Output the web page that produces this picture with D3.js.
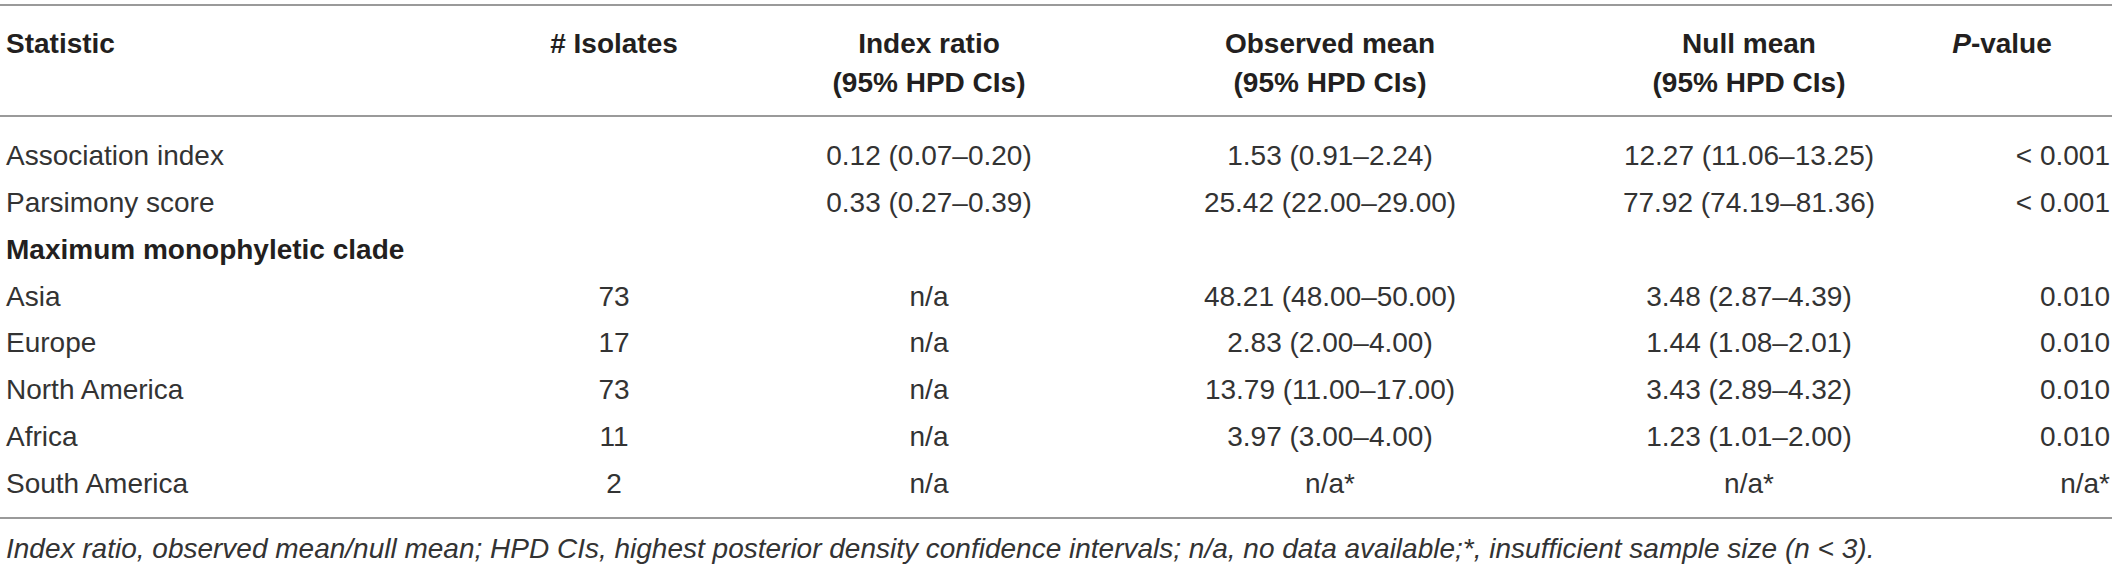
<!DOCTYPE html>
<html>
<head>
<meta charset="utf-8">
<script src="https://cdn.jsdelivr.net/npm/d3@7"></script>
<style>
  html, body { margin: 0; padding: 0; background: #fff; }
  svg { display: block; }
  text { font-family: "Liberation Sans", Arial, Helvetica, sans-serif; }
</style>
</head>
<body>
<svg id="chart" width="2118" height="567"></svg>
<script>
// ---- data ----
const headers1 = ["Statistic", "# Isolates", "Index ratio", "Observed mean", "Null mean", "P-value"];
const headers2 = ["", "", "(95% HPD CIs)", "(95% HPD CIs)", "(95% HPD CIs)", ""];
const rowLabels = ["Association index", "Parsimony score", "Maximum monophyletic clade", "Asia", "Europe", "North America", "Africa", "South America"];
const sectionRows = ["Maximum monophyletic clade"];
const isolates = ["", "", "", "73", "17", "73", "11", "2"];
const indexRatio = ["0.12 (0.07–0.20)", "0.33 (0.27–0.39)", "", "n/a", "n/a", "n/a", "n/a", "n/a"];
const observedMean = ["1.53 (0.91–2.24)", "25.42 (22.00–29.00)", "", "48.21 (48.00–50.00)", "2.83 (2.00–4.00)", "13.79 (11.00–17.00)", "3.97 (3.00–4.00)", "n/a*"];
const nullMean = ["12.27 (11.06–13.25)", "77.92 (74.19–81.36)", "", "3.48 (2.87–4.39)", "1.44 (1.08–2.01)", "3.43 (2.89–4.32)", "1.23 (1.01–2.00)", "n/a*"];
const pValue = ["< 0.001", "< 0.001", "", "0.010", "0.010", "0.010", "0.010", "n/a*"];
const footnote = "Index ratio, observed mean/null mean; HPD CIs, highest posterior density confidence intervals; n/a, no data available;*, insufficient sample size (n < 3).";

// ---- layout ----
const svg = d3.select("#chart");
const fontSize = 28;
const headColor = "#231f20";
const textColor = "#333333";
const ruleColor = "#9a9a9a";
const capOffset = 10; // baseline offset from visual centre

const columns = [
  { key: "label", x: 6, anchor: "start", values: rowLabels },
  { key: "iso", x: 614, anchor: "middle", values: isolates },
  { key: "idx", x: 929, anchor: "middle", values: indexRatio },
  { key: "obs", x: 1330, anchor: "middle", values: observedMean },
  { key: "null", x: 1749, anchor: "middle", values: nullMean },
  { key: "p", x: 2110, anchor: "end", values: pValue }
];
const headerX = [6, 614, 929, 1330, 1749, 2002];
const headerAnchor = ["start", "middle", "middle", "middle", "middle", "middle"];

const y = d3.scalePoint()
  .domain(d3.range(rowLabels.length))
  .range([155, 483]);

// rules
const rules = [5, 116, 518];
svg.selectAll("line.rule").data(rules).join("line")
  .attr("class", "rule")
  .attr("x1", 0).attr("x2", 2112)
  .attr("y1", d => d).attr("y2", d => d)
  .attr("stroke", ruleColor).attr("stroke-width", 2);

// headers
const hdr = svg.append("g").attr("font-weight", "bold").attr("font-size", fontSize).attr("fill", headColor);
headers1.forEach((h, i) => {
  const t = hdr.append("text")
    .attr("x", headerX[i]).attr("y", 43 + capOffset)
    .attr("text-anchor", headerAnchor[i]);
  if (h === "P-value") {
    t.append("tspan").attr("font-style", "italic").text("P");
    t.append("tspan").text("-value");
  } else {
    t.text(h);
  }
  if (headers2[i]) {
    hdr.append("text")
      .attr("x", headerX[i]).attr("y", 82 + capOffset)
      .attr("text-anchor", headerAnchor[i])
      .text(headers2[i]);
  }
});

// body cells
const body = svg.append("g").attr("font-size", fontSize);
columns.forEach(col => {
  body.selectAll(null).data(col.values.map((v, i) => ({ v, i }))).join("text")
    .attr("x", col.x)
    .attr("y", d => y(d.i) + capOffset)
    .attr("text-anchor", col.anchor)
    .attr("font-weight", d => (col.key === "label" && sectionRows.includes(d.v)) ? "bold" : "normal")
    .attr("fill", d => (col.key === "label" && sectionRows.includes(d.v)) ? headColor : textColor)
    .text(d => d.v);
});

// footnote
svg.append("text")
  .attr("x", 6).attr("y", 548 + capOffset)
  .attr("font-size", fontSize).attr("font-style", "italic")
  .attr("fill", textColor)
  .text(footnote);
</script>
</body>
</html>
